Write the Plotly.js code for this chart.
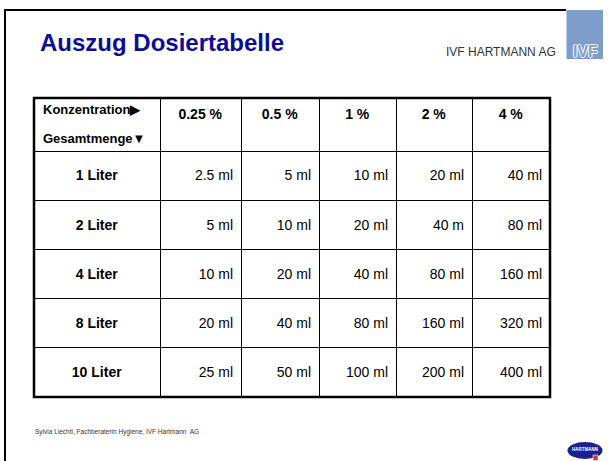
<!DOCTYPE html>
<html>
<head>
<meta charset="utf-8">
<script src="https://cdn.plot.ly/plotly-3.0.1.min.js"></script>
<style>html,body{margin:0;padding:0;background:#fff;}</style>
</head>
<body>
<div id="chart" style="width:609px;height:461px;"></div>
<script>
// ---- data ----
const concentrations = ['0.25 %', '0.5 %', '1 %', '2 %', '4 %'];
const volumes = ['1 Liter', '2 Liter', '4 Liter', '8 Liter', '10 Liter'];
const dose025 = ['2.5 ml', '5 ml', '10 ml', '20 ml', '25 ml'];
const dose05  = ['5 ml', '10 ml', '20 ml', '40 ml', '50 ml'];
const dose1   = ['10 ml', '20 ml', '40 ml', '80 ml', '100 ml'];
const dose2   = ['20 ml', '40 m', '80 ml', '160 ml', '200 ml'];
const dose4   = ['40 ml', '80 ml', '160 ml', '320 ml', '400 ml'];
const cornerTop = 'Konzentration▶';
const cornerBottom = 'Gesamtmenge▼';
const titleText = 'Auszug Dosiertabelle';
const companyText = 'IVF HARTMANN AG';
const footerText = 'Sylvia Liechti, Fachberaterin Hygiene, IVF Hartmann  AG';

// ---- layout helpers (pixel -> paper) ----
const W = 609, H = 461;
const px = v => v / W;
const py = v => 1 - v / H;

const tbl = {x0: 34, x1: 550, y0: 98, y1: 397};
const FONT = 'Liberation Sans, Arial, sans-serif';

// push single-line cell text down to the vertical middle of the row
const mid = (s, bold) => '\u00a0<br><span style="font-size:14px">' + (bold ? '<b>' + s + '</b>' : s) + '</span>';

const headerVals = [''].concat(concentrations.map(c => `<b>${c}</b>`));

const trace = {
  type: 'table',
  domain: {x: [px(tbl.x0), px(tbl.x1)], y: [py(tbl.y1), py(tbl.y0)]},
  columnwidth: [126, 81, 78, 77, 76, 78],
  header: {
    values: headerVals,
    align: ['left', 'center', 'center', 'center', 'center', 'center'],
    height: 53,
    line: {color: '#000', width: 1},
    fill: {color: '#fff'},
    font: {family: FONT, size: 14, color: '#000'}
  },
  cells: {
    values: [volumes.map(v => mid(v, true)), dose025.map(v => mid(v)), dose05.map(v => mid(v)),
             dose1.map(v => mid(v)), dose2.map(v => mid(v)), dose4.map(v => mid(v))],
    align: ['center', 'right', 'right', 'right', 'right', 'right'],
    height: 49.2,
    line: {color: '#000', width: 1},
    fill: {color: '#fff'},
    font: {family: FONT, size: 9.6, color: '#000'}
  }
};

const shapes = [
  // slide frame
  {type: 'line', xref: 'paper', yref: 'paper', x0: px(4), x1: px(566), y0: py(10), y1: py(10), line: {color: '#000', width: 2}},
  {type: 'line', xref: 'paper', yref: 'paper', x0: px(5), x1: px(5), y0: py(9), y1: py(461), line: {color: '#000', width: 2}},
  // thick outer table border
  {type: 'rect', xref: 'paper', yref: 'paper', x0: px(tbl.x0), x1: px(tbl.x1), y0: py(tbl.y1), y1: py(tbl.y0), line: {color: '#000', width: 2.5}},
  // IVF logo block
  {type: 'rect', xref: 'paper', yref: 'paper', x0: px(566.5), x1: px(603), y0: py(59), y1: py(10), fillcolor: '#7f9dca', line: {width: 0}},
  // HARTMANN oval logo
  {type: 'circle', xref: 'paper', yref: 'paper', x0: px(567.5), x1: px(602.5), y0: py(459), y1: py(442), fillcolor: '#1b1f8f', line: {width: 0}},
  {type: 'rect', xref: 'paper', yref: 'paper', x0: px(593), x1: px(598), y0: py(460.5), y1: py(455), fillcolor: '#d23a3a', line: {color: '#fff', width: 0.6}}
];

const annotations = [
  {text: '<b>' + cornerTop + '</b>', xref: 'paper', yref: 'paper', x: px(41), y: py(109), xanchor: 'left', yanchor: 'middle', showarrow: false,
   font: {family: FONT, size: 13, color: '#000'}},
  {text: '<b>' + cornerBottom + '</b>', xref: 'paper', yref: 'paper', x: px(41), y: py(138.5), xanchor: 'left', yanchor: 'middle', showarrow: false,
   font: {family: FONT, size: 13, color: '#000'}},
  {text: companyText, xref: 'paper', yref: 'paper', x: px(557.5), y: py(57.5), xanchor: 'right', yanchor: 'bottom', showarrow: false,
   font: {family: FONT, size: 12, color: '#333'}, yshift: -3},
  {text: '<b>IVF</b>', xref: 'paper', yref: 'paper', x: px(585), y: py(51.5), xanchor: 'center', yanchor: 'middle', showarrow: false,
   font: {family: FONT, size: 16, color: '#7f9dca', shadow: '1px 0 0 #fff, -1px 0 0 #fff, 0 1px 0 #fff, 0 -1px 0 #fff'}},
  {text: footerText, xref: 'paper', yref: 'paper', x: px(33), y: py(432), xanchor: 'left', yanchor: 'middle', showarrow: false,
   font: {family: FONT, size: 6.5, color: '#333'}},
  {text: '<b>HARTMANN</b>', xref: 'paper', yref: 'paper', x: px(585), y: py(449.5), xanchor: 'center', yanchor: 'middle', showarrow: false,
   font: {family: FONT, size: 4.5, color: '#fff'}}
];

const layout = {
  width: W, height: H,
  margin: {l: 0, r: 0, t: 0, b: 0},
  paper_bgcolor: '#fff',
  title: {
    text: '<b>' + titleText + '</b>',
    x: px(40), xanchor: 'left', xref: 'paper',
    y: py(43), yanchor: 'middle', yref: 'container',
    font: {family: FONT, size: 24, color: '#0d0d96'}
  },
  shapes: shapes,
  annotations: annotations
};

Plotly.newPlot('chart', [trace], layout, {displayModeBar: false, staticPlot: true});
</script>
</body>
</html>
